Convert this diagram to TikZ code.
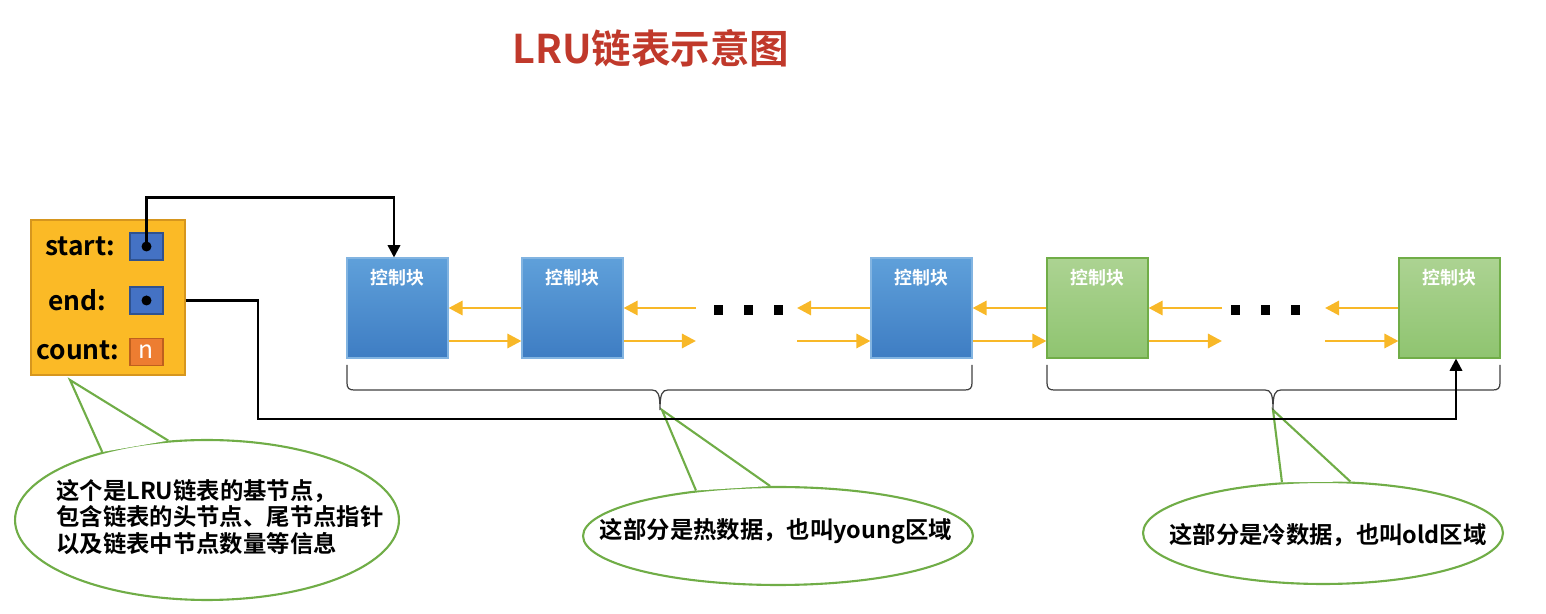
\documentclass[tikz,border=0pt]{standalone}
\usepackage{fontspec}
\setmainfont{Noto Sans CJK SC}[BoldFont={Noto Sans CJK SC Bold}]
\usetikzlibrary{arrows.meta,calc,shapes.geometric}
\definecolor{titlered}{RGB}{192,57,43}
\definecolor{baseor}{RGB}{251,186,38}
\definecolor{baseedge}{RGB}{214,150,30}
\definecolor{ptrblue}{RGB}{68,114,196}
\definecolor{ptredge}{RGB}{47,82,143}
\definecolor{cntor}{RGB}{237,125,49}
\definecolor{cntedge}{RGB}{190,95,30}
\definecolor{blktop}{RGB}{95,160,218}
\definecolor{blkbot}{RGB}{62,125,195}
\definecolor{blkedge}{RGB}{130,180,225}
\definecolor{grntop}{RGB}{172,211,146}
\definecolor{grnbot}{RGB}{143,196,112}
\definecolor{grnedge}{RGB}{112,173,71}
\definecolor{arrowor}{RGB}{248,184,40}
\definecolor{callgreen}{RGB}{112,173,71}
\begin{document}
\begin{tikzpicture}[x=0.02cm,y=-0.02cm,
  title/.style={text=titlered, font=\bfseries\fontsize{22.5}{27}\selectfont},
  basebox/.style={draw=baseedge, fill=baseor, line width=0.8pt, minimum width=3.08cm, minimum height=3.1cm, inner sep=0pt},
  fieldtext/.style={font=\bfseries\fontsize{15}{18}\selectfont, inner sep=0pt},
  ptrsq/.style={draw=ptredge, fill=ptrblue, line width=0.6pt, minimum width=0.66cm, minimum height=0.54cm, inner sep=0pt},
  cntsq/.style={draw=cntedge, fill=cntor, line width=0.6pt, minimum width=0.66cm, minimum height=0.54cm, inner sep=0pt, text=white, font=\fontsize{14}{14}\selectfont},
  ptrdot/.style={circle, fill=black, minimum size=0.2cm, inner sep=0pt},
  blk/.style={minimum width=2.02cm, minimum height=2cm, inner sep=0pt, line width=0.6pt},
  blueblk/.style={blk, top color=blktop, bottom color=blkbot, draw=blkedge},
  greenblk/.style={blk, top color=grntop, bottom color=grnbot, draw=grnedge},
  blklabel/.style={text=white, font=\bfseries\fontsize{10.2}{12}\selectfont, inner sep=0pt},
  link/.style={draw=arrowor, line width=1.7pt, -{Triangle[length=8pt,width=8pt]}},
  ptr/.style={draw=black, line width=1.4pt, -{Triangle[length=7pt,width=7pt]}},
  brace/.style={draw=black!75, line width=0.7pt},
  callout/.style={ellipse, draw=callgreen, line width=1.2pt, fill=white, inner sep=0pt},
  tail/.style={draw=callgreen, line width=1.2pt},
  calltext/.style={font=\bfseries\fontsize{13.3}{15.3}\selectfont, align=left, inner sep=0pt},
  dotsq/.style={fill=black, minimum width=0.18cm, minimum height=0.2cm, inner sep=0pt}
]
\useasboundingbox (0,0) rectangle (1546,614);

% title
\node[title] (ttl) at (651,48) {LRU链表示意图};

% callouts (drawn first so black lines cross over them)
\node[callout, minimum width=7.68cm, minimum height=3.2cm] (e1) at (207,520) {};
\coordinate (t1) at (70,380);
\fill[white] (t1) -- (e1.147) -- (e1.116) -- cycle;
\draw[tail] (e1.147) -- (t1) -- (e1.116);
\node[calltext] (c1) at (220,517) {这个是LRU链表的基节点，\\包含链表的头节点、尾节点指针\\以及链表中节点数量等信息};

\node[callout, minimum width=7.8cm, minimum height=1.96cm] (e2) at (778,536) {};
\coordinate (t2) at (662,410);
\fill[white] (t2) -- (e2.151) -- (e2.99) -- cycle;
\draw[tail] (e2.151) -- (t2) -- (e2.99);
\node[calltext] (c2) at (776,531) {这部分是热数据，也叫young区域};

\node[callout, minimum width=7.2cm, minimum height=2.04cm] (e3) at (1323,533) {};
\coordinate (t3) at (1273,410);
\fill[white] (t3) -- (e3.129) -- (e3.62) -- cycle;
\draw[tail] (e3.129) -- (t3) -- (e3.62);
\node[calltext] (c3) at (1328,535) {这部分是冷数据，也叫old区域};

% base node
\node[basebox] (base) at (108,297.5) {};
\node[fieldtext] (lstart) at (80,246) {start:};
\node[fieldtext] (lend) at (77,300) {end:};
\node[fieldtext] (lcount) at (78,350) {count:};
\node[ptrsq] (ssq) at (146.5,246.5) {};
\node[ptrsq] (esq) at (146.5,300.5) {};
\node[cntsq] (csq) at (146.5,352) {n};
\node[ptrdot] (sdot) at (ssq.center) {};
\node[ptrdot] (edot) at (esq.center) {};

% control blocks
\node[blueblk] (b1) at (397.5,308) {};
\node[blueblk] (b2) at (572.5,308) {};
\node[blueblk] (b3) at (921.5,308) {};
\node[greenblk] (g1) at (1097.5,308) {};
\node[greenblk] (g2) at (1449.5,308) {};
\foreach \b in {b1,b2,b3,g1,g2}{
  \node[blklabel] (\b t) at ($(\b.north)+(0,20)$) {控制块};
}

% ellipsis dots
\node[dotsq] (d1) at (718,310) {};
\node[dotsq] (d2) at (748,310) {};
\node[dotsq] (d3) at (778,310) {};
\node[dotsq] (d4) at (1235,310) {};
\node[dotsq] (d5) at (1265,310) {};
\node[dotsq] (d6) at (1295,310) {};

% link arrows
\coordinate (r2) at (696,308);
\coordinate (l3) at (797,308);
\coordinate (r4) at (1222,308);
\coordinate (l5) at (1325,308);
\draw[link] (b2.west) -- (b1.east);
\draw[link] ($(b1.east)+(0,33)$) -- ($(b2.west)+(0,33)$);
\draw[link] (r2) -- (b2.east);
\draw[link] ($(b2.east)+(0,33)$) -- ($(r2)+(0,33)$);
\draw[link] (b3.west) -- (l3);
\draw[link] ($(l3)+(0,33)$) -- ($(b3.west)+(0,33)$);
\draw[link] (g1.west) -- (b3.east);
\draw[link] ($(b3.east)+(0,33)$) -- ($(g1.west)+(0,33)$);
\draw[link] (r4) -- (g1.east);
\draw[link] ($(g1.east)+(0,33)$) -- ($(r4)+(0,33)$);
\draw[link] (g2.west) -- (l5);
\draw[link] ($(l5)+(0,33)$) -- ($(g2.west)+(0,33)$);

% braces
\draw[brace] (347,365) -- (347,383) .. controls (347,388) and (349,390) .. (354,390) -- (652,390)
  .. controls (658,390) and (660,394) .. (660,410) .. controls (660,394) and (662,390) .. (668,390)
  -- (965,390) .. controls (970,390) and (972,388) .. (972,383) -- (972,365);
\draw[brace] (1047,365) -- (1047,383) .. controls (1047,388) and (1049,390) .. (1054,390) -- (1265,390)
  .. controls (1271,390) and (1273,394) .. (1273,410) .. controls (1273,394) and (1275,390) .. (1281,390)
  -- (1493,390) .. controls (1498,390) and (1500,388) .. (1500,383) -- (1500,365);

% pointers
\draw[ptr] (sdot.center) |- ($(b1.north)+(-3.5,-60)$) -- ($(b1.north)+(-3.5,0)$);
\draw[ptr] (base.east |- esq.center) -- (258,300.5) -- (258,419) -| ($(g2.south)+(6.5,0)$);
\end{tikzpicture}
\end{document}
